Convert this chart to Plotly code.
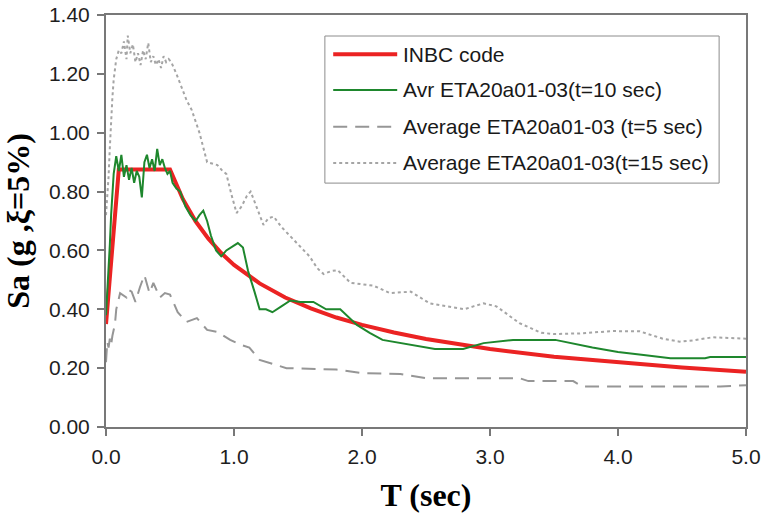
import plotly.graph_objects as go

# INBC code spectrum
inbc_T = [0.0, 0.1, 0.5, 0.6, 0.7, 0.8, 0.9, 1.0, 1.2, 1.4, 1.6, 1.8, 2.0, 2.25, 2.5, 2.75, 3.0, 3.5, 4.0, 4.5, 5.0]
inbc_Sa = [0.35, 0.875, 0.875, 0.775, 0.699, 0.640, 0.591, 0.551, 0.488, 0.440, 0.403, 0.372, 0.347, 0.321, 0.299, 0.281, 0.265, 0.239, 0.219, 0.202, 0.188]

# Avr ETA20a01-03 (t=10 sec)
t10_T = [0.0, 0.01, 0.02, 0.03, 0.04, 0.05, 0.06, 0.08, 0.10, 0.12, 0.14, 0.16, 0.18, 0.20, 0.22, 0.24, 0.26, 0.28,
         0.30, 0.32, 0.34, 0.36, 0.38, 0.40, 0.42, 0.44, 0.46, 0.48, 0.50, 0.52, 0.55, 0.58, 0.62, 0.66, 0.70, 0.73,
         0.76, 0.79, 0.82, 0.86, 0.90, 0.94, 0.98, 1.03, 1.07, 1.11, 1.16, 1.20, 1.25, 1.30, 1.37, 1.44, 1.52, 1.62,
         1.72, 1.83, 1.96, 2.06, 2.16, 2.30, 2.45, 2.57, 2.79, 2.95, 3.18, 3.51, 3.80, 4.00, 4.20, 4.41, 4.68, 4.72, 5.0]
t10_Sa = [0.38, 0.45, 0.55, 0.62, 0.72, 0.78, 0.86, 0.92, 0.87, 0.925, 0.85, 0.89, 0.84, 0.88, 0.83, 0.87, 0.85, 0.78,
          0.90, 0.925, 0.88, 0.91, 0.87, 0.945, 0.89, 0.91, 0.88, 0.86, 0.87, 0.83, 0.81, 0.80, 0.75, 0.72, 0.70, 0.72,
          0.735, 0.70, 0.65, 0.60, 0.58, 0.60, 0.61, 0.625, 0.61, 0.53, 0.46, 0.40, 0.40, 0.39, 0.41, 0.43, 0.425, 0.425,
          0.40, 0.40, 0.347, 0.32, 0.296, 0.285, 0.275, 0.265, 0.265, 0.285, 0.296, 0.296, 0.27, 0.255, 0.245, 0.234, 0.234, 0.238, 0.238]

# Average ETA20a01-03 (t=5 sec)
t5_T = [0.0, 0.01, 0.02, 0.03, 0.04, 0.05, 0.07, 0.08, 0.11, 0.13, 0.16, 0.18, 0.20, 0.23, 0.265, 0.30, 0.34, 0.37,
        0.42, 0.46, 0.50, 0.56, 0.63, 0.71, 0.79, 0.87, 0.97, 1.05, 1.12, 1.20, 1.31, 1.41, 1.80, 2.0, 2.3, 2.5, 3.23,
        3.30, 3.65, 3.72, 4.80, 5.0]
t5_Sa = [0.22, 0.29, 0.27, 0.30, 0.28, 0.31, 0.35, 0.40, 0.455, 0.45, 0.44, 0.465, 0.46, 0.425, 0.475, 0.516, 0.455, 0.49,
         0.44, 0.455, 0.45, 0.39, 0.357, 0.37, 0.33, 0.323, 0.296, 0.28, 0.27, 0.228, 0.214, 0.20, 0.195, 0.183, 0.18, 0.166, 0.166,
         0.156, 0.156, 0.138, 0.138, 0.142]

# Average ETA20a01-03 (t=15 sec)
t15_T = [0.0, 0.01, 0.02, 0.03, 0.04, 0.05, 0.06, 0.08, 0.10, 0.12, 0.14, 0.16, 0.17, 0.19, 0.21, 0.23, 0.25, 0.27,
         0.29, 0.31, 0.33, 0.35, 0.37, 0.39, 0.41, 0.43, 0.45, 0.47, 0.49, 0.51, 0.55, 0.59, 0.63, 0.67, 0.73, 0.79,
         0.83, 0.87, 0.91, 0.94, 0.98, 1.02, 1.06, 1.10, 1.13, 1.18, 1.23, 1.27, 1.31, 1.37, 1.44, 1.52, 1.59, 1.65,
         1.70, 1.76, 1.81, 1.91, 2.09, 2.22, 2.38, 2.53, 2.80, 2.87, 2.95, 3.05, 3.23, 3.40, 3.50, 3.70, 3.96, 4.17,
         4.35, 4.48, 4.60, 4.74, 5.0]
t15_Sa = [0.72, 0.78, 0.85, 0.95, 1.05, 1.12, 1.18, 1.25, 1.28, 1.27, 1.31, 1.25, 1.33, 1.27, 1.30, 1.24, 1.27, 1.23,
          1.28, 1.25, 1.305, 1.24, 1.26, 1.23, 1.25, 1.22, 1.26, 1.24, 1.25, 1.24, 1.20, 1.155, 1.11, 1.077, 1.0, 0.90,
          0.895, 0.89, 0.87, 0.86, 0.79, 0.727, 0.75, 0.785, 0.80, 0.74, 0.687, 0.71, 0.715, 0.68, 0.647, 0.61, 0.58, 0.54,
          0.52, 0.53, 0.533, 0.49, 0.48, 0.455, 0.46, 0.42, 0.40, 0.41, 0.42, 0.41, 0.353, 0.32, 0.316, 0.318, 0.326, 0.325,
          0.30, 0.29, 0.295, 0.305, 0.30]

names = ["INBC code", "Avr ETA20a01-03(t=10 sec)", "Average ETA20a01-03 (t=5 sec)", "Average ETA20a01-03(t=15 sec)"]
x_ticks = [0, 1, 2, 3, 4, 5]
x_ticklabels = ["0.0", "1.0", "2.0", "3.0", "4.0", "5.0"]
y_ticks = [0, 0.2, 0.4, 0.6, 0.8, 1.0, 1.2, 1.4]
y_ticklabels = ["0.00", "0.20", "0.40", "0.60", "0.80", "1.00", "1.20", "1.40"]

styles = [
    dict(color="rgb(235,35,35)", width=4, dash="solid"),
    dict(color="rgb(30,135,45)", width=2, dash="solid"),
    dict(color="rgb(150,150,150)", width=2, dash="14px,8px"),
    dict(color="rgb(165,165,165)", width=2, dash="dot"),
]

fig = go.Figure()
fig.add_trace(go.Scatter(x=t15_T, y=t15_Sa, mode="lines", name=names[3], line=styles[3], showlegend=False))
fig.add_trace(go.Scatter(x=t5_T, y=t5_Sa, mode="lines", name=names[2], line=styles[2], showlegend=False))
fig.add_trace(go.Scatter(x=inbc_T, y=inbc_Sa, mode="lines", name=names[0], line=styles[0], showlegend=False))
fig.add_trace(go.Scatter(x=t10_T, y=t10_Sa, mode="lines", name=names[1], line=styles[1], showlegend=False))

# Legend box drawn in paper coordinates
leg_x0, leg_x1, leg_y0, leg_y1 = 0.342, 0.958, 0.592, 0.949
leg_rows = [0.905, 0.818, 0.729, 0.641]
shapes = [dict(type="rect", xref="paper", yref="paper", x0=leg_x0, x1=leg_x1, y0=leg_y0, y1=leg_y1,
               line=dict(color="rgb(140,140,140)", width=1), fillcolor="white", layer="above")]
annotations = []
for nm, st, ry in zip(names, styles, leg_rows):
    shapes.append(dict(type="line", xref="paper", yref="paper", x0=0.355, x1=0.455, y0=ry, y1=ry,
                       line=st, layer="above"))
    annotations.append(dict(xref="paper", yref="paper", x=0.4615, y=ry, xanchor="left", yanchor="middle",
                            text=nm, showarrow=False, font=dict(size=21, color="rgb(25,25,25)")))

fig.update_layout(
    width=763, height=517,
    margin=dict(l=106, r=17, t=15, b=90),
    paper_bgcolor="white", plot_bgcolor="white",
    font=dict(family="Liberation Sans, Arial", size=21, color="rgb(30,30,30)"),
    showlegend=False,
    shapes=shapes, annotations=annotations,
    xaxis=dict(range=[0, 5], tickvals=x_ticks, ticktext=x_ticklabels, automargin=False,
               showgrid=False, zeroline=False, showline=True, linecolor="rgb(120,120,120)", linewidth=2,
               mirror=True, ticks="outside", ticklen=7, tickcolor="rgb(120,120,120)", tickwidth=2,
               ticklabelstandoff=3,
               title=dict(text="<b>T (sec)</b>", font=dict(family="Liberation Serif, Times New Roman", size=32, color="black"), standoff=16)),
    yaxis=dict(range=[0, 1.4], tickvals=y_ticks, ticktext=y_ticklabels, automargin=False,
               showgrid=False, zeroline=False, showline=True, linecolor="rgb(120,120,120)", linewidth=2,
               mirror=True, ticks="outside", ticklen=7, tickcolor="rgb(120,120,120)", tickwidth=2,
               ticklabelstandoff=3,
               title=dict(text="<b>Sa (g ,ξ=5%)</b>", font=dict(family="Liberation Serif, Times New Roman", size=32, color="black"), standoff=10)),
)
fig.write_html("out.html")
